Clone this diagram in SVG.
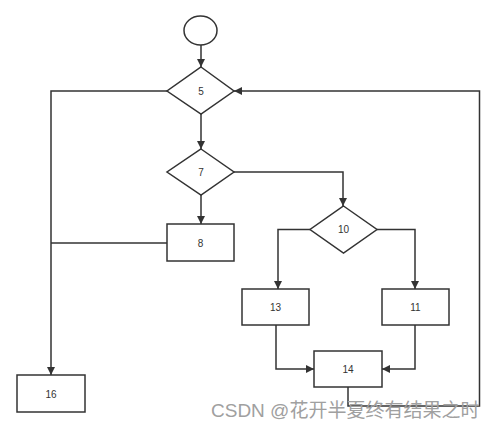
<svg xmlns="http://www.w3.org/2000/svg" width="497" height="429" viewBox="0 0 497 429">
<style>
.s{fill:#fff;stroke:#333;stroke-width:1.5}
.c{fill:none;stroke:#333;stroke-width:1.5}
.t{font-family:"Liberation Sans",Arial,sans-serif;font-size:10px;fill:#333;text-anchor:middle;dominant-baseline:central}
.w{font-family:"Liberation Sans","Noto Sans CJK SC",sans-serif;font-size:19px;fill:#a0a0a0}
</style>
<defs>
<marker id="a" viewBox="0 0 10 10" refX="10" refY="5" markerWidth="9" markerHeight="8" markerUnits="userSpaceOnUse" orient="auto">
<path d="M0,0 L10,5 L0,10 z" fill="#333"/>
</marker>
</defs>
<rect width="497" height="429" fill="#fff"/>
<g id="connectors">
<path class="c" d="M201,45 V67" marker-end="url(#a)"/>
<path class="c" d="M201,114 V149" marker-end="url(#a)"/>
<path class="c" d="M201,195 V224" marker-end="url(#a)"/>
<path class="c" d="M167,91 H51 V375" marker-end="url(#a)"/>
<path class="c" d="M167,243 H51"/>
<path class="c" d="M234,172 H343 V206" marker-end="url(#a)"/>
<path class="c" d="M310,229.5 H278 V289" marker-end="url(#a)"/>
<path class="c" d="M377,229.5 H415 V289" marker-end="url(#a)"/>
<path class="c" d="M276,325 V369 H314" marker-end="url(#a)"/>
<path class="c" d="M415,325 V369 H382" marker-end="url(#a)"/>
<path class="c" d="M348,387 V406 H479.5 V91 H234" marker-end="url(#a)"/>
</g>
<g id="start"><ellipse class="s" cx="200.5" cy="30.5" rx="16.5" ry="14.5"/></g>
<g id="n5"><polygon class="s" points="201,67 234,91 201,114 167,91"/><text class="t" x="201" y="91">5</text></g>
<g id="n7"><polygon class="s" points="201,149 234,172 201,195 167,172"/><text class="t" x="201" y="172">7</text></g>
<g id="n8"><rect class="s" x="167" y="224" width="67" height="37"/><text class="t" x="200.5" y="243">8</text></g>
<g id="n10"><polygon class="s" points="343.5,206 377,229.5 343.5,253 310,229.5"/><text class="t" x="343.5" y="229.5">10</text></g>
<g id="n13"><rect class="s" x="242" y="289" width="67" height="36"/><text class="t" x="275.5" y="307.5">13</text></g>
<g id="n11"><rect class="s" x="382" y="289" width="67" height="36"/><text class="t" x="415.5" y="307.5">11</text></g>
<g id="n14"><rect class="s" x="314" y="351" width="68" height="36"/><text class="t" x="348" y="369.5">14</text></g>
<g id="n16"><rect class="s" x="17" y="375" width="68" height="37"/><text class="t" x="51" y="394">16</text></g>
<text class="w" x="211" y="417">CSDN @花开半夏终有结果之时</text>
</svg>
